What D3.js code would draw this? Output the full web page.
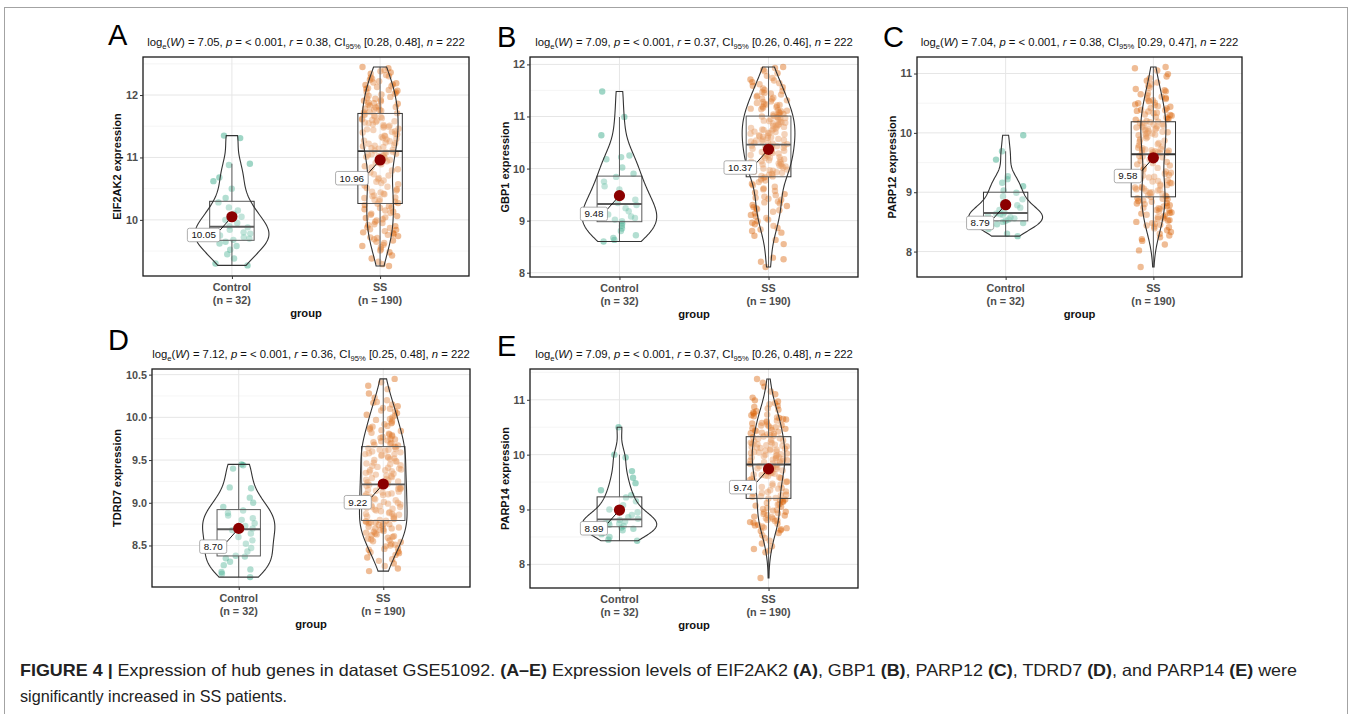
<!DOCTYPE html>
<html>
<head>
<meta charset="utf-8">
<script src="https://cdn.jsdelivr.net/npm/d3@7"></script>
<style>
  body { margin: 0; background: #fff; }
  text { font-family: "Liberation Sans", Arial, Helvetica, sans-serif; }
</style>
</head>
<body>
<svg id="fig" width="1352" height="714"></svg>
<script>
// ---- data ----
var groups = ["Control", "SS"]
var groupN = ["(n = 32)", "(n = 190)"]
var genes = ["EIF2AK2", "GBP1", "PARP12", "TDRD7", "PARP14"]
var letters = ["A", "B", "C", "D", "E"]
var logW = ["7.05", "7.09", "7.04", "7.12", "7.09"]
var effR = ["0.38", "0.37", "0.38", "0.36", "0.37"]
var ciLow = ["0.28", "0.26", "0.29", "0.25", "0.26"]
var ciHigh = ["0.48", "0.46", "0.47", "0.48", "0.48"]
var meanControl = [10.05, 9.48, 8.79, 8.70, 8.99]
var meanSS = [10.96, 10.37, 9.58, 9.22, 9.74]
var yTicks = [[10, 11, 12], [8, 9, 10, 11, 12], [8, 9, 10, 11], [8.5, 9, 9.5, 10, 10.5], [8, 9, 10, 11]]

var eif2ak2Control = [9.27, 9.3, 9.38, 9.45, 9.52, 9.58, 9.62, 9.65, 9.68, 9.7, 9.72, 9.75, 9.78, 9.8, 9.84, 9.88,
  9.9, 9.95, 10.0, 10.05, 10.1, 10.15, 10.2, 10.28, 10.35, 10.5, 10.62, 10.68, 10.88, 10.9, 11.31, 11.35]
var eif2ak2SS = [9.26, 9.29, 9.33, 9.38, 9.43, 9.48,
  9.51, 9.53, 9.56, 9.58, 9.6, 9.63, 9.65, 9.67, 9.69, 9.71, 9.72, 9.74,
  9.76, 9.77, 9.79, 9.8, 9.82, 9.84, 9.85, 9.87, 9.88, 9.9, 9.92, 9.93, 9.95, 9.97, 9.99,
  10.01, 10.03, 10.04, 10.06, 10.08, 10.1, 10.11, 10.13, 10.15, 10.17, 10.19, 10.2, 10.22, 10.24,
  10.26, 10.27, 10.29, 10.3, 10.32, 10.33, 10.35, 10.36, 10.38, 10.39, 10.41, 10.42, 10.44, 10.45, 10.47, 10.49,
  10.51, 10.53, 10.55, 10.57, 10.59, 10.61, 10.63, 10.65, 10.67, 10.69, 10.71, 10.73,
  10.76, 10.79, 10.81, 10.84, 10.86, 10.89, 10.91, 10.94, 10.96, 10.99,
  11.0, 11.01, 11.02, 11.03, 11.04, 11.05, 11.06, 11.07, 11.08, 11.09,
  11.11, 11.12, 11.14, 11.15, 11.17, 11.18, 11.19, 11.2, 11.22, 11.23, 11.24,
  11.26, 11.27, 11.29, 11.3, 11.31, 11.33, 11.34, 11.35, 11.37, 11.38, 11.4, 11.41, 11.42, 11.44, 11.45, 11.46, 11.48, 11.49,
  11.5, 11.51, 11.52, 11.53, 11.55, 11.56, 11.57, 11.58, 11.59, 11.6, 11.61, 11.62, 11.63, 11.65, 11.66, 11.67, 11.68, 11.69,
  11.71, 11.72, 11.73, 11.75, 11.76, 11.77, 11.78, 11.8, 11.81, 11.82, 11.83, 11.85, 11.86, 11.87, 11.88, 11.9, 11.91, 11.92, 11.94, 11.95, 11.97, 11.99,
  12.01, 12.02, 12.04, 12.05, 12.07, 12.08, 12.1, 12.11, 12.13, 12.14, 12.16, 12.17, 12.19, 12.2, 12.22, 12.24,
  12.26, 12.28, 12.3, 12.32, 12.34, 12.36, 12.38, 12.4, 12.43, 12.45]

var gbp1Control = [8.6, 8.63, 8.67, 8.72, 8.8, 8.85, 8.9, 8.95, 8.99, 9.02, 9.05, 9.08, 9.12, 9.18, 9.24, 9.3,
  9.34, 9.4, 9.48, 9.52, 9.6, 9.66, 9.75, 9.84, 9.9, 10.02, 10.18, 10.22, 10.25, 10.64, 10.99, 11.48]
var gbp1SS = [8.11, 8.21, 8.26, 8.29, 8.55, 8.63, 8.71,
  8.77, 8.8, 8.83, 8.86, 8.9, 8.93, 8.96, 8.99,
  9.02, 9.05, 9.08, 9.11, 9.14, 9.17, 9.2, 9.22, 9.24,
  9.26, 9.28, 9.3, 9.33, 9.35, 9.37, 9.4, 9.42, 9.44, 9.46, 9.49,
  9.51, 9.54, 9.57, 9.6, 9.62, 9.65, 9.68, 9.71, 9.74, 9.77, 9.79, 9.82,
  9.84, 9.85, 9.86, 9.88, 9.89, 9.9, 9.92, 9.93, 9.94, 9.96, 9.97, 9.98, 10.0, 10.01, 10.02, 10.04, 10.05, 10.06,
  10.08, 10.09, 10.1, 10.12, 10.13, 10.14, 10.16, 10.17, 10.18, 10.2, 10.21, 10.22, 10.24, 10.25, 10.26, 10.28, 10.29, 10.3,
  10.32, 10.33, 10.34, 10.36, 10.37, 10.38, 10.4, 10.41, 10.42, 10.43, 10.44, 10.45,
  10.47, 10.48, 10.49, 10.5, 10.52, 10.53, 10.54, 10.55, 10.56, 10.57, 10.59, 10.6, 10.61, 10.62, 10.63, 10.64,
  10.66, 10.67, 10.68, 10.69, 10.7, 10.71, 10.73, 10.74, 10.75, 10.76, 10.77, 10.78, 10.8, 10.81, 10.82, 10.83, 10.84, 10.85,
  10.87, 10.88, 10.89, 10.9, 10.91, 10.92, 10.94, 10.95, 10.96, 10.97, 10.98, 10.99, 11.0,
  11.01, 11.03, 11.04, 11.05, 11.07, 11.08, 11.1, 11.11, 11.12, 11.14, 11.15, 11.17, 11.18, 11.19, 11.21, 11.22, 11.23, 11.24,
  11.26, 11.28, 11.29, 11.31, 11.33, 11.34, 11.36, 11.38, 11.4, 11.42, 11.44, 11.45, 11.47, 11.49,
  11.51, 11.54, 11.56, 11.59, 11.62, 11.64, 11.66, 11.69, 11.71, 11.74,
  11.78, 11.83, 11.87, 11.9, 11.93, 11.95]

var parp12Control = [8.26, 8.3, 8.38, 8.43, 8.46, 8.48, 8.5, 8.51, 8.52, 8.54, 8.56, 8.58, 8.6, 8.62, 8.63, 8.64,
  8.66, 8.7, 8.74, 8.78, 8.82, 8.88, 8.93, 8.99, 9.03, 9.1, 9.16, 9.22, 9.27, 9.55, 9.69, 9.96]
var parp12SS = [7.74, 8.02, 8.12, 8.18,
  8.21, 8.24, 8.27, 8.3, 8.33, 8.36, 8.39,
  8.41, 8.42, 8.44, 8.45, 8.47, 8.48, 8.5, 8.52, 8.53, 8.55, 8.56, 8.58, 8.59,
  8.61, 8.62, 8.64, 8.65, 8.66, 8.68, 8.69, 8.7, 8.72, 8.73, 8.74, 8.76, 8.77, 8.78, 8.8, 8.81, 8.82, 8.84, 8.85, 8.86, 8.88, 8.89, 8.9,
  8.92, 8.93, 8.94, 8.95, 8.97, 8.98, 8.99, 9.0, 9.02, 9.03, 9.04, 9.05, 9.06, 9.07, 9.08, 9.09,
  9.11, 9.12, 9.13, 9.15, 9.16, 9.18, 9.19, 9.2, 9.22, 9.23, 9.25, 9.26, 9.28, 9.29,
  9.31, 9.33, 9.35, 9.37, 9.39, 9.41, 9.43, 9.45, 9.47, 9.49,
  9.51, 9.53, 9.55, 9.57, 9.59, 9.6, 9.61, 9.63,
  9.65, 9.66, 9.66, 9.67, 9.68, 9.68, 9.69, 9.7, 9.71, 9.71, 9.72, 9.73, 9.74, 9.75,
  9.77, 9.79, 9.81, 9.83, 9.85, 9.87, 9.89, 9.91, 9.93, 9.95,
  9.96, 9.97, 9.98, 9.99, 10.0, 10.01, 10.02, 10.03, 10.04, 10.05, 10.06, 10.07, 10.08, 10.09, 10.1, 10.11,
  10.12, 10.13, 10.14, 10.15, 10.16, 10.17, 10.18,
  10.19, 10.2, 10.22, 10.23, 10.24, 10.26, 10.27, 10.29, 10.3, 10.31, 10.33, 10.34, 10.36, 10.37, 10.38, 10.39,
  10.41, 10.42, 10.44, 10.45, 10.47, 10.48, 10.5, 10.51, 10.53, 10.54, 10.55, 10.57, 10.58, 10.59,
  10.61, 10.63, 10.65, 10.67, 10.7, 10.72, 10.74, 10.76, 10.79,
  10.82, 10.85, 10.88, 10.92, 10.95, 10.99,
  11.05, 11.09, 11.11]

var tdrd7Control = [8.13, 8.17, 8.19, 8.22, 8.27, 8.31, 8.35, 8.37, 8.38, 8.43, 8.47, 8.52, 8.56, 8.6, 8.64, 8.68,
  8.7, 8.73, 8.76, 8.8, 8.82, 8.85, 8.88, 8.91, 8.95, 9.0, 9.06, 9.17, 9.18, 9.4, 9.44, 9.45]
var tdrd7SS = [8.2, 8.23, 8.26, 8.29, 8.32, 8.34, 8.36, 8.39,
  8.41, 8.42, 8.43, 8.45, 8.46, 8.47, 8.49, 8.5, 8.51, 8.52, 8.54, 8.55, 8.56, 8.57, 8.58, 8.59, 8.6,
  8.61, 8.62, 8.63, 8.64, 8.65, 8.66, 8.67, 8.68, 8.69, 8.7, 8.7, 8.71, 8.72, 8.73, 8.74, 8.75, 8.75, 8.76, 8.77, 8.77, 8.78, 8.78,
  8.79, 8.8, 8.81, 8.82, 8.83, 8.84, 8.85, 8.86, 8.87, 8.87, 8.88, 8.89, 8.9, 8.91, 8.92, 8.93, 8.94, 8.95, 8.95, 8.96, 8.97, 8.98, 8.99, 9.0,
  9.01, 9.02, 9.03, 9.04, 9.05, 9.06, 9.07, 9.08, 9.09, 9.1, 9.1, 9.11, 9.12, 9.13, 9.14, 9.15, 9.16, 9.16, 9.17, 9.18, 9.19, 9.19, 9.2, 9.21,
  9.22, 9.23, 9.24, 9.25, 9.26, 9.27, 9.28, 9.29, 9.3, 9.31, 9.32, 9.33, 9.34, 9.35, 9.36, 9.37, 9.38, 9.38, 9.39, 9.4, 9.41, 9.42, 9.43, 9.44, 9.45,
  9.46, 9.47, 9.48, 9.49, 9.5, 9.51, 9.52, 9.53, 9.54, 9.55, 9.56, 9.57, 9.57, 9.58, 9.59, 9.6, 9.61, 9.62, 9.62, 9.63, 9.64, 9.65,
  9.66, 9.67, 9.68, 9.69, 9.7, 9.71, 9.72, 9.73, 9.74, 9.75, 9.76, 9.77, 9.78, 9.79, 9.8,
  9.81, 9.82, 9.84, 9.85, 9.86, 9.88, 9.89, 9.9, 9.92, 9.93, 9.94, 9.96, 9.97, 9.98, 10.0,
  10.02, 10.03, 10.05, 10.07, 10.08, 10.1, 10.11, 10.13, 10.15, 10.17, 10.18, 10.2,
  10.23, 10.28, 10.33, 10.37, 10.41, 10.45]

var parp14Control = [8.43, 8.45, 8.5, 8.55, 8.58, 8.62, 8.65, 8.67, 8.69, 8.7, 8.72, 8.74, 8.75, 8.76, 8.78, 8.81,
  8.83, 8.86, 8.9, 8.95, 9.0, 9.08, 9.15, 9.22, 9.26, 9.35, 9.48, 9.58, 9.7, 9.95, 10.0, 10.5]
var parp14SS = [7.75, 8.22, 8.25, 8.28,
  8.33, 8.38, 8.43, 8.48, 8.53, 8.57,
  8.61, 8.62, 8.64, 8.66, 8.67, 8.69, 8.71, 8.72, 8.74, 8.76, 8.77, 8.79,
  8.8, 8.81, 8.83, 8.84, 8.86, 8.87, 8.89, 8.9, 8.92, 8.93, 8.95, 8.96, 8.98, 8.99,
  9.01, 9.03, 9.05, 9.07, 9.09, 9.1, 9.12, 9.14, 9.15, 9.17, 9.18,
  9.2, 9.21, 9.23, 9.24, 9.26, 9.27, 9.29, 9.3, 9.32, 9.33, 9.35, 9.36, 9.38, 9.39,
  9.41, 9.42, 9.44, 9.45, 9.47, 9.48, 9.5, 9.51, 9.53, 9.54, 9.56, 9.57, 9.58, 9.59,
  9.61, 9.62, 9.63, 9.64, 9.65, 9.66, 9.67, 9.68, 9.69, 9.7, 9.71, 9.72, 9.73, 9.74, 9.75, 9.76, 9.77, 9.78, 9.79, 9.81,
  9.83, 9.84, 9.85, 9.86, 9.87, 9.88, 9.89, 9.9, 9.91, 9.92, 9.93, 9.94, 9.95, 9.96, 9.97, 9.98, 9.99, 10.0, 10.01, 10.02, 10.03,
  10.04, 10.05, 10.06, 10.07, 10.08, 10.09, 10.1, 10.11, 10.12, 10.13, 10.14, 10.15, 10.16, 10.17, 10.18, 10.19, 10.2, 10.21,
  10.22, 10.23, 10.24, 10.26, 10.27, 10.29, 10.3, 10.32,
  10.33, 10.34, 10.35, 10.37, 10.38, 10.39, 10.4, 10.42, 10.43, 10.44, 10.45, 10.47, 10.48, 10.49, 10.5, 10.52, 10.53, 10.54, 10.55, 10.57, 10.58, 10.59,
  10.61, 10.62, 10.64, 10.65, 10.67, 10.68, 10.7, 10.72, 10.73, 10.75, 10.77, 10.79,
  10.82, 10.84, 10.87, 10.89, 10.92, 10.94, 10.97, 10.99,
  11.04, 11.1, 11.15, 11.24, 11.31, 11.38]

var controlValues = [eif2ak2Control, gbp1Control, parp12Control, tdrd7Control, parp14Control]
var ssValues = [eif2ak2SS, gbp1SS, parp12SS, tdrd7SS, parp14SS]

// ---- layout ----
var panels = [
  {x0: 143, x1: 469, y0: 57, y1: 276, lx: 108, ly: 45, tx: 46, ylx: 117},
  {x0: 530, x1: 858, y0: 57, y1: 277, lx: 497, ly: 47, tx: 46, ylx: 505},
  {x0: 917, x1: 1242, y0: 57, y1: 277, lx: 883, ly: 47, tx: 46, ylx: 892},
  {x0: 152, x1: 470, y0: 369, y1: 587, lx: 108, ly: 350, tx: 358, ylx: 117},
  {x0: 530, x1: 858, y0: 369, y1: 588, lx: 497, ly: 356, tx: 358, ylx: 505}
]
var groupColour = ["#1B9E77", "#D95F02"]
var lineColour = "#333333"
var meanColour = "#8B0000"

var svg = d3.select("#fig")

// outer frame of the figure
svg.append("rect").attr("x", 4.5).attr("y", 7.5).attr("width", 1343).attr("height", 720)
  .attr("fill", "none").attr("stroke", "#a3a3a3").attr("stroke-width", 1)

function jitter(i, k) {
  var s = Math.sin((i + 1) * 12.9898 + k * 78.233) * 43758.5453
  return (s - Math.floor(s)) * 2 - 1
}

function boxStats(v) {
  var s = v.slice().sort(d3.ascending)
  var q1 = d3.quantileSorted(s, 0.25), med = d3.quantileSorted(s, 0.5), q3 = d3.quantileSorted(s, 0.75)
  var iqr = q3 - q1
  return {
    q1: q1, med: med, q3: q3,
    lo: d3.min(s.filter(function (d) { return d >= q1 - 1.5 * iqr })),
    hi: d3.max(s.filter(function (d) { return d <= q3 + 1.5 * iqr }))
  }
}

// gaussian kde with bw.nrd0, trimmed to the data range (like geom_violin)
function density(v) {
  var n = v.length
  var iqr = d3.quantile(v, 0.75) - d3.quantile(v, 0.25)
  var bw = 0.9 * Math.min(d3.deviation(v), iqr / 1.34) * Math.pow(n, -0.2)
  var ext = d3.extent(v)
  return d3.range(0, 129).map(function (i) {
    var y = ext[0] + (ext[1] - ext[0]) * i / 128
    var s = 0
    v.forEach(function (d) { var u = (y - d) / bw; s += Math.exp(-0.5 * u * u) })
    return [y, s / (n * bw * Math.sqrt(2 * Math.PI))]
  })
}

function drawTitle(g, k, cx, yb) {
  var t = g.append("text").attr("x", cx).attr("y", yb).attr("text-anchor", "middle")
    .attr("font-size", "11.3px").attr("fill", "#111")
  var parts = [
    ["log"], ["e", "sub"], ["(", "up"], ["W", "it"], [") = " + logW[k] + ", "], ["p", "it"],
    [" = < 0.001, "], ["r", "it"], [" = " + effR[k] + ", CI"], ["95%", "sub"],
    [" [" + ciLow[k] + ", " + ciHigh[k] + "], ", "up"], ["n", "it"], [" = 222"]
  ]
  parts.forEach(function (p) {
    var s = t.append("tspan").text(p[0])
    if (p[1] === "sub") s.attr("font-size", "7.6px").attr("dy", 2.6)
    if (p[1] === "up") s.attr("dy", -2.6)
    if (p[1] === "it") s.attr("font-style", "italic")
  })
}

function drawPanel(p, k) {
  var g = svg.append("g")
  var ctrl = controlValues[k], ss = ssValues[k]
  var sets = [ctrl, ss]
  var means = [meanControl[k], meanSS[k]]
  var ext = d3.extent(ctrl.concat(ss))
  var pad = (ext[1] - ext[0]) * 0.05
  var y = d3.scaleLinear().domain([ext[0] - pad, ext[1] + pad]).range([p.y1, p.y0])
  var x = d3.scalePoint().domain(groups).range([p.x0, p.x1]).padding(0.6)
  var step = x.step()

  // grid
  var ticks = yTicks[k]
  var half = (ticks[1] - ticks[0]) / 2
  var minor = d3.range(ticks[0] - half, ticks[ticks.length - 1] + half + 1e-9, half * 2)
    .filter(function (d) { return d > y.domain()[0] && d < y.domain()[1] })
  g.selectAll(".minor").data(minor).enter().append("line")
    .attr("x1", p.x0).attr("x2", p.x1).attr("y1", y).attr("y2", y)
    .attr("stroke", "#f1f1f1").attr("stroke-width", 0.7)
  g.selectAll(".major").data(ticks).enter().append("line")
    .attr("x1", p.x0).attr("x2", p.x1).attr("y1", y).attr("y2", y)
    .attr("stroke", "#e6e6e6").attr("stroke-width", 1)
  g.selectAll(".vgrid").data(groups).enter().append("line")
    .attr("x1", x).attr("x2", x).attr("y1", p.y0).attr("y2", p.y1)
    .attr("stroke", "#e6e6e6").attr("stroke-width", 1)

  // jittered points
  sets.forEach(function (v, gi) {
    g.append("g").selectAll("circle").data(v).enter().append("circle")
      .attr("cx", function (d, i) { return x(groups[gi]) + jitter(i, k * 2 + gi) * step * 0.125 })
      .attr("cy", y)
      .attr("r", 3.2)
      .attr("fill", groupColour[gi])
      .attr("fill-opacity", 0.42)
  })

  // boxplots
  var bw = step * 0.3
  sets.forEach(function (v, gi) {
    var b = boxStats(v), cx = x(groups[gi])
    var bg = g.append("g").attr("stroke", lineColour).attr("fill", "none")
    bg.append("line").attr("x1", cx).attr("x2", cx).attr("y1", y(b.hi)).attr("y2", y(b.q3)).attr("stroke-width", 1)
    bg.append("line").attr("x1", cx).attr("x2", cx).attr("y1", y(b.q1)).attr("y2", y(b.lo)).attr("stroke-width", 1)
    bg.append("rect").attr("x", cx - bw / 2).attr("width", bw)
      .attr("y", y(b.q3)).attr("height", y(b.q1) - y(b.q3))
      .attr("fill", "#fff").attr("fill-opacity", 0.2).attr("stroke-width", 1)
    bg.append("line").attr("x1", cx - bw / 2).attr("x2", cx + bw / 2).attr("y1", y(b.med)).attr("y2", y(b.med))
      .attr("stroke-width", 1.8)
  })

  // violins, area-scaled like geom_violin(scale = "area", width = 0.5)
  var dens = sets.map(density)
  var maxD = d3.max(dens, function (ds) { return d3.max(ds, function (d) { return d[1] }) })
  var w = d3.scaleLinear().domain([0, maxD]).range([0, step * 0.25])
  dens.forEach(function (ds, gi) {
    var cx = x(groups[gi])
    var area = d3.area()
      .y(function (d) { return y(d[0]) })
      .x0(function (d) { return cx - w(d[1]) })
      .x1(function (d) { return cx + w(d[1]) })
    g.append("path").datum(ds).attr("d", area)
      .attr("fill", "#fff").attr("fill-opacity", 0.2)
      .attr("stroke", lineColour).attr("stroke-width", 1.1)
  })

  // means with labels
  means.forEach(function (m, gi) {
    var cx = x(groups[gi]), cy = y(m)
    var lg = g.append("g")
    var txt = lg.append("text").text(m.toFixed(2)).attr("font-size", "9.8px").attr("fill", "#111")
      .attr("text-anchor", "end")
    var tw = txt.node().getComputedTextLength()
    var right = cx - 12, top = cy + 11.5, hgt = 13.5
    lg.insert("line", "text").attr("x1", right).attr("y1", top + 2).attr("x2", cx).attr("y2", cy)
      .attr("stroke", "#000").attr("stroke-width", 0.9)
    lg.insert("circle", "text").attr("cx", cx).attr("cy", cy).attr("r", 5.6).attr("fill", meanColour)
    lg.insert("rect", "text").attr("x", right - tw - 8).attr("y", top).attr("width", tw + 8).attr("height", hgt)
      .attr("rx", 2).attr("fill", "#fff").attr("stroke", "#8c8c8c").attr("stroke-width", 0.7)
    txt.attr("x", right - 4).attr("y", top + hgt / 2 + 3.4)
  })

  // panel border
  g.append("rect").attr("x", p.x0).attr("y", p.y0).attr("width", p.x1 - p.x0).attr("height", p.y1 - p.y0)
    .attr("fill", "none").attr("stroke", "#1a1a1a").attr("stroke-width", 1.3)

  // axes
  var fmt = k === 3 ? d3.format(".1f") : d3.format("d")
  var ya = g.append("g").attr("transform", "translate(" + p.x0 + ",0)")
    .call(d3.axisLeft(y).tickValues(ticks).tickSize(3).tickPadding(2).tickFormat(fmt))
  ya.select(".domain").remove()
  ya.selectAll("line").attr("stroke", lineColour)
  ya.selectAll("text").attr("font-size", "10.8px").attr("font-weight", "bold").attr("fill", "#4d4d4d")
    .attr("font-family", null)

  var xa = g.append("g").attr("transform", "translate(0," + p.y1 + ")")
    .call(d3.axisBottom(x).tickSize(3).tickFormat(""))
  xa.select(".domain").remove()
  xa.selectAll("line").attr("stroke", lineColour)

  groups.forEach(function (gr, gi) {
    var t = g.append("text").attr("x", x(gr)).attr("y", p.y1 + 15).attr("text-anchor", "middle")
      .attr("font-size", "10.8px").attr("font-weight", "bold").attr("fill", "#4d4d4d")
    t.append("tspan").attr("x", x(gr)).text(gr)
    t.append("tspan").attr("x", x(gr)).attr("dy", 12.5).text(groupN[gi])
  })
  g.append("text").attr("x", (p.x0 + p.x1) / 2).attr("y", p.y1 + 40.5).attr("text-anchor", "middle")
    .attr("font-size", "11.2px").attr("font-weight", "bold").attr("fill", "#111").text("group")
  g.append("text")
    .attr("transform", "translate(" + (p.ylx + 4) + "," + ((p.y0 + p.y1) / 2) + ") rotate(-90)")
    .attr("text-anchor", "middle").attr("font-size", "11px").attr("font-weight", "bold").attr("fill", "#111")
    .text(genes[k] + " expression")

  drawTitle(g, k, (p.x0 + p.x1) / 2, p.tx)
  g.append("text").attr("x", p.lx).attr("y", p.ly).attr("font-size", "29px").attr("fill", "#000").text(letters[k])
}

panels.forEach(function (p, k) { drawPanel(p, k) })

// caption
var cap1 = [
  ["FIGURE 4 |", true], [" Expression of hub genes in dataset GSE51092. ", false], ["(A\u2013E)", true],
  [" Expression levels of EIF2AK2 ", false], ["(A)", true], [", GBP1 ", false], ["(B)", true],
  [", PARP12 ", false], ["(C)", true], [", TDRD7 ", false], ["(D)", true], [", and PARP14 ", false],
  ["(E)", true], [" were", false]
]
var c1 = svg.append("text").attr("x", 20).attr("y", 676).attr("font-size", "16.5px").attr("fill", "#222")
  .attr("textLength", 1277).attr("lengthAdjust", "spacingAndGlyphs")
cap1.forEach(function (c) {
  c1.append("tspan").text(c[0]).attr("font-weight", c[1] ? "bold" : "normal")
})
svg.append("text").attr("x", 20).attr("y", 702).attr("font-size", "16.5px").attr("fill", "#222")
  .attr("textLength", 267).attr("lengthAdjust", "spacingAndGlyphs")
  .text("significantly increased in SS patients.")
</script>
</body>
</html>
